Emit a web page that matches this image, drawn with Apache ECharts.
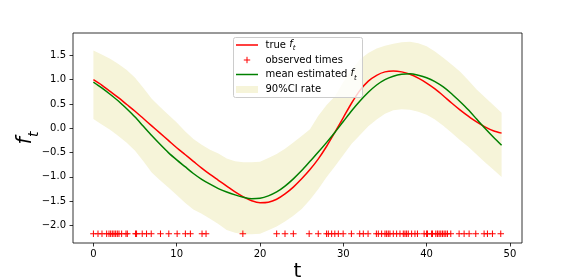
<!DOCTYPE html>
<html><head><meta charset="utf-8">
<script src="https://cdn.jsdelivr.net/npm/echarts@6/dist/echarts.min.js"></script>
<style>html,body{margin:0;padding:0;background:#fff}#c{width:581px;height:278px}</style>
</head><body><div id="c"></div>
<script>
const tValues = [0,1,2,3,4,5,6,7,8,9,10,11,12,13,14,15,16,17,18,19,20,21,22,23,24,25,26,27,28,29,30,31,32,33,34,35,36,37,38,39,40,41,42,43,44,45,46,47,48,49];
const trueF = [1.00,0.89,0.76,0.63,0.49,0.35,0.20,0.05,-0.10,-0.25,-0.40,-0.54,-0.68,-0.82,-0.95,-1.07,-1.19,-1.31,-1.41,-1.49,-1.53,-1.52,-1.46,-1.35,-1.21,-1.04,-0.85,-0.63,-0.37,-0.08,0.22,0.52,0.78,0.97,1.09,1.16,1.18,1.16,1.11,1.03,0.93,0.81,0.67,0.52,0.38,0.25,0.13,0.03,-0.05,-0.10];
const meanF = [0.95,0.83,0.70,0.56,0.40,0.23,0.04,-0.15,-0.33,-0.50,-0.65,-0.79,-0.93,-1.05,-1.15,-1.24,-1.31,-1.37,-1.42,-1.45,-1.44,-1.39,-1.31,-1.19,-1.04,-0.87,-0.68,-0.49,-0.29,-0.08,0.14,0.36,0.56,0.74,0.89,1.00,1.07,1.11,1.12,1.09,1.04,0.96,0.85,0.71,0.55,0.38,0.19,0.00,-0.18,-0.35];
const ciUpper = [1.60,1.52,1.43,1.32,1.20,1.04,0.83,0.61,0.44,0.28,0.12,-0.06,-0.22,-0.34,-0.44,-0.52,-0.62,-0.68,-0.70,-0.70,-0.69,-0.61,-0.53,-0.42,-0.29,-0.16,-0.02,0.26,0.48,0.66,0.95,1.20,1.42,1.55,1.64,1.70,1.74,1.77,1.78,1.75,1.69,1.58,1.45,1.31,1.17,0.99,0.80,0.64,0.48,0.32];
const ciLower = [0.19,0.08,-0.03,-0.16,-0.30,-0.46,-0.68,-0.91,-1.07,-1.22,-1.37,-1.53,-1.67,-1.76,-1.86,-1.97,-2.09,-2.15,-2.18,-2.18,-2.17,-2.10,-2.02,-1.92,-1.80,-1.66,-1.47,-1.25,-1.00,-0.78,-0.55,-0.32,-0.14,0.04,0.18,0.30,0.37,0.39,0.38,0.34,0.28,0.18,0.05,-0.09,-0.24,-0.38,-0.54,-0.70,-0.85,-1.00];
const observedTimes = [0,0.55,1.03,1.59,1.87,2.07,2.27,2.47,2.67,2.87,3.07,3.39,3.91,4.07,5.06,5.18,5.86,6.38,6.94,8.05,9.05,10.05,11.04,11.64,13.04,13.52,17.94,22.0,23.0,24.0,25.9,26.99,27.99,28.2,28.6,28.98,29.4,29.98,30.97,31.97,32.4,32.97,33.97,34.2,34.6,35.0,35.2,35.4,35.6,36.0,36.4,36.8,37.2,37.4,37.6,37.8,38.2,38.6,38.9,39.7,40.0,40.1,40.6,40.7,41.1,41.3,41.5,41.7,41.9,42.1,42.3,42.5,42.9,43.9,44.5,45.1,45.9,46.9,47.3,47.9,48.9];
const observedLevel = -2.17;
const xTicks = [0,10,20,30,40,50];
const yTicks = [-2,-1.5,-1,-0.5,0,0.5,1,1.5];

const FONT = 'DejaVu Sans';
const bandColor = '#f6f4d9';
const fmtY = v => v.toFixed(1).replace('-', '\u2212');
const plusPath = 'path://M2.54,0H3.46V2.54H6V3.46H3.46V6H2.54V3.46H0V2.54H2.54Z';

const chart = echarts.init(document.getElementById('c'), null, {renderer: 'canvas'});

const legendRows = [45, 60, 74.5, 89.5];
const lx = 236, lx2 = 258, tx = 265.5;
const legendRich = {
  n: {fontFamily: FONT, fontSize: 10, color: '#000'},
  f: {fontFamily: FONT, fontSize: 10, fontStyle: 'italic', color: '#000', verticalAlign: 'top', lineHeight: 12},
  s: {fontFamily: FONT, fontSize: 7, fontStyle: 'italic', color: '#000', verticalAlign: 'top', lineHeight: 8, padding: [6, 0, 0, 0]}
};

function renderBand(params, api) {
  const pts = [];
  for (let i = 0; i < tValues.length; i++) pts.push(api.coord([tValues[i], ciUpper[i]]));
  for (let i = tValues.length - 1; i >= 0; i--) pts.push(api.coord([tValues[i], ciLower[i]]));
  return {type: 'polygon', shape: {points: pts}, style: {fill: bandColor, stroke: null}};
}

chart.setOption({
  animation: false,
  backgroundColor: '#fff',
  grid: {left: 73, right: 59, top: 33, bottom: 35, outerBoundsMode: 'none', containLabel: false, show: true, borderColor: '#000', borderWidth: 0.8, backgroundColor: 'transparent'},
  xAxis: {
    type: 'value', min: -2.45, max: 51.45,
    name: 't', nameLocation: 'middle', nameGap: 19, nameMoveOverlap: false,
    nameTextStyle: {fontFamily: FONT, fontSize: 20, color: '#000'},
    axisLine: {show: false, onZero: false},
    axisTick: {show: true, length: 3.5, lineStyle: {color: '#000', width: 0.8}, customValues: xTicks},
    axisLabel: {color: '#000', fontFamily: FONT, fontSize: 10, margin: 6, customValues: xTicks, formatter: v => String(v)},
    splitLine: {show: false}
  },
  yAxis: {
    type: 'value', min: -2.36, max: 1.96,
    name: '{f|f}{s|t}', nameLocation: 'middle', nameGap: 34, nameRotate: 90, nameMoveOverlap: false,
    nameTextStyle: {
      rich: {
        f: {fontFamily: FONT, fontSize: 21, fontStyle: 'italic', color: '#000', verticalAlign: 'top', lineHeight: 24},
        s: {fontFamily: FONT, fontSize: 14, fontStyle: 'italic', color: '#000', verticalAlign: 'top', lineHeight: 16, padding: [12, 0, 0, 0]}
      }
    },
    axisLine: {show: false, onZero: false},
    axisTick: {show: true, length: 3.5, lineStyle: {color: '#000', width: 0.8}, customValues: yTicks},
    axisLabel: {color: '#000', fontFamily: FONT, fontSize: 10, margin: 7, customValues: yTicks, formatter: fmtY},
    splitLine: {show: false}
  },
  series: [
    {type: 'custom', name: '90%CI rate', data: [[tValues[0], ciUpper[0]]], renderItem: renderBand, silent: true, z: 1},
    {type: 'line', name: 'true f_t', data: tValues.map((t, i) => [t, trueF[i]]), symbol: 'none', smooth: 0.3, lineStyle: {color: '#ff0000', width: 1.5}, z: 3},
    {type: 'scatter', name: 'observed times', data: observedTimes.map(t => [t, observedLevel]), symbol: plusPath, symbolSize: 6.5, itemStyle: {color: '#ff0000', opacity: 1}, z: 4},
    {type: 'line', name: 'mean estimated f_t', data: tValues.map((t, i) => [t, meanF[i]]), symbol: 'none', smooth: 0.3, lineStyle: {color: '#008000', width: 1.5}, z: 5}
  ],
  graphic: [
    {type: 'rect', z: 100, shape: {x: 233.5, y: 37.5, width: 129, height: 60, r: 2}, style: {fill: 'rgba(255,255,255,0.8)', stroke: '#cccccc', lineWidth: 1}},
    {type: 'line', z: 101, shape: {x1: lx, y1: legendRows[0], x2: lx2, y2: legendRows[0]}, style: {stroke: '#ff0000', lineWidth: 1.5}},
    {type: 'line', z: 101, shape: {x1: 247, y1: legendRows[1] - 3.2, x2: 247, y2: legendRows[1] + 3.2}, style: {stroke: '#ff0000', lineWidth: 1}},
    {type: 'line', z: 101, shape: {x1: 243.8, y1: legendRows[1], x2: 250.2, y2: legendRows[1]}, style: {stroke: '#ff0000', lineWidth: 1}},
    {type: 'line', z: 101, shape: {x1: lx, y1: legendRows[2], x2: lx2, y2: legendRows[2]}, style: {stroke: '#008000', lineWidth: 1.5}},
    {type: 'rect', z: 101, shape: {x: lx, y: legendRows[3] - 3.5, width: lx2 - lx, height: 7}, style: {fill: bandColor}},
    {type: 'text', z: 101, x: tx, y: legendRows[0], style: {text: '{n|true }{f|f}{s|t}', rich: legendRich, verticalAlign: 'middle', fill: '#000'}},
    {type: 'text', z: 101, x: tx, y: legendRows[1], style: {text: 'observed times', fontFamily: FONT, fontSize: 10, verticalAlign: 'middle', fill: '#000'}},
    {type: 'text', z: 101, x: tx, y: legendRows[2], style: {text: '{n|mean estimated }{f|f}{s|t}', rich: legendRich, verticalAlign: 'middle', fill: '#000'}},
    {type: 'text', z: 101, x: tx, y: legendRows[3], style: {text: '90%CI rate', fontFamily: FONT, fontSize: 10, verticalAlign: 'middle', fill: '#000'}}
  ]
});
</script>
</body></html>
